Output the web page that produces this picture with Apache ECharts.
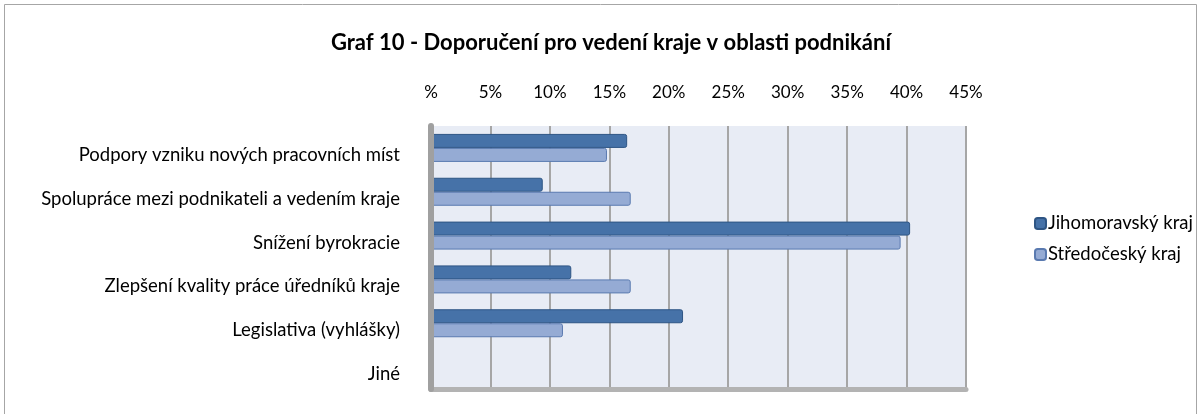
<!DOCTYPE html>
<html><head><meta charset="utf-8">
<script src="https://cdn.jsdelivr.net/npm/echarts@6/dist/echarts.min.js"></script>
<style>html,body{margin:0;padding:0;background:#fff}#c{width:1201px;height:414px}</style>
</head><body><div id="c"></div>
<script>
const categories = ['Podpory vzniku nových pracovních míst','Spolupráce mezi podnikateli a vedením kraje','Snížení byrokracie','Zlepšení kvality práce úředníků kraje','Legislativa (vyhlášky)','Jiné'];
const seriesNames = ['Jihomoravský kraj','Středočeský kraj'];
const jihomoravsky = [16.5, 9.4, 40.3, 11.8, 21.2, 0];
const stredocesky = [14.8, 16.8, 39.5, 16.8, 11.1, 0];
const tickLabels = ['%','5%','10%','15%','20%','25%','30%','35%','40%','45%'];

const FONT = 'Lato, "Open Sans", sans-serif';
const chart = echarts.init(document.getElementById('c'));
chart.setOption({
  animation:false,
  backgroundColor:'#fff',
  title:{text:'Graf 10 - Doporučení pro vedení kraje v oblasti podnikání',left:606,top:27,textAlign:'center',
    textStyle:{fontFamily:FONT,fontSize:22,fontWeight:'bold',color:'#000'}},
  graphic:[{type:'rect',shape:{x:4.5,y:4.5,width:1192,height:420},style:{fill:'none',stroke:'#a6a6a6',lineWidth:1},silent:true,z:-10}],
  legend:{orient:'vertical',left:1029,top:209,itemWidth:11,itemHeight:11,itemGap:12,
    textStyle:{fontFamily:FONT,fontSize:18.5,color:'#000',padding:[0,0,0,-3]},
    data:seriesNames},
  grid:{left:431,right:235,top:126,bottom:25,backgroundColor:'#E8ECF5',show:true,borderWidth:0},
  xAxis:[{type:'value',position:'top',min:0,max:45,interval:5,
    axisLabel:{fontFamily:FONT,fontSize:17,color:'#000',margin:25,formatter:(v)=>tickLabels[Math.round(v/5)]},
    axisLine:{show:false},axisTick:{show:false},
    splitLine:{show:true,lineStyle:{color:'#A6A6A6',width:2}}},
   {type:'value',position:'bottom',min:0,max:45,interval:5,axisLabel:{show:false},axisTick:{show:false},splitLine:{show:false},
    axisLine:{show:true,lineStyle:{color:'#B3B3B3',width:5}}}],
  yAxis:{type:'category',inverse:true,data:categories,z:5,
    axisLabel:{fontFamily:FONT,fontSize:18.5,color:'#000',margin:31,verticalAlign:'top',lineHeight:14},
    axisLine:{show:true,lineStyle:{color:'#A0A0A0',width:6}},axisTick:{show:false}},
  series:[
    {name:seriesNames[0],type:'bar',data:jihomoravsky,barWidth:14,barGap:'0%',
     itemStyle:{color:'#4672A8',borderColor:'#2E5584',borderWidth:1,borderRadius:[0,2,2,0]}},
    {name:seriesNames[1],type:'bar',data:stredocesky,barWidth:14,barGap:'0%',
     itemStyle:{color:'#95ABD4',borderColor:'#5A7AB0',borderWidth:1,borderRadius:[0,2,2,0]}}
  ]
});
</script></body></html>
